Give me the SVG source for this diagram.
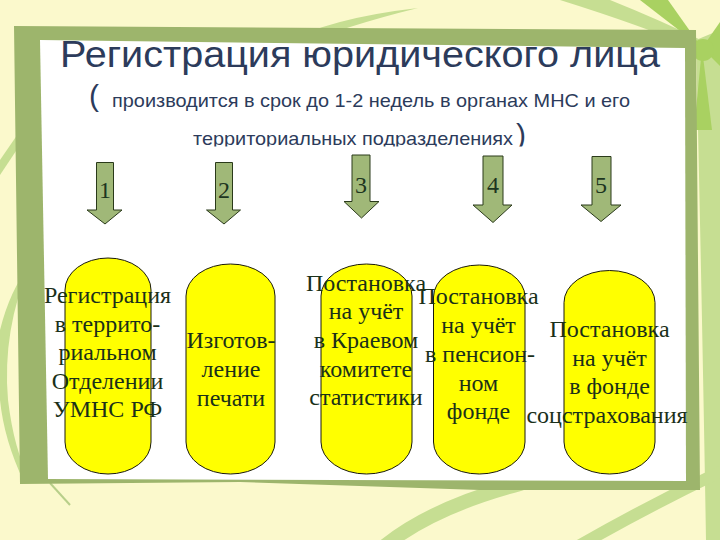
<svg xmlns="http://www.w3.org/2000/svg" width="720" height="540" viewBox="0 0 720 540">
  <defs>
    <style>
      .leaf { fill: #c6de92; }
      .leafs { fill: none; stroke: #c6de92; stroke-linecap: round; }
      .bright { fill: #a9d161; }
      .title { font-family: "Liberation Sans", "DejaVu Sans", Arial, sans-serif; fill: #2c3b5b; }
      .arrow { fill: #a0b878; stroke: #2a3a1a; stroke-width: 1; }
      .num { font-family: "Liberation Serif", "Times New Roman", serif; font-size: 24px; fill: #1d3520; text-anchor: middle; }
      .pill { fill: #ffff00; stroke: #1a1a0a; stroke-width: 1; }
      .lbl { font-family: "Liberation Serif", "Times New Roman", serif; font-size: 24px; fill: #1a3019; text-anchor: middle; }
    </style>
    <clipPath id="clipLine3">
      <rect x="0" y="100" width="720" height="46.5"/>
    </clipPath>
  </defs>

  <g id="background">
    <rect x="0" y="0" width="720" height="540" fill="#fbf9cc"/>
    <path class="leaf" d="M 282 44 Q 330 18 418 8 Q 345 26 292 48 Z"/>
    <path class="leaf" d="M 560 0 L 610 0 Q 660 20 705 42 L 700 50 Q 640 25 560 0 Z"/>
    <path class="leaf" d="M 696 40 L 720 30 L 720 540 L 706 540 Q 702 300 696 40 Z"/>
    <path class="bright" d="M 702 48 L 640 0 L 668 0 Z"/>
    <path class="bright" d="M 702 48 L 720 22 L 720 66 Z"/>
    <path class="bright" d="M 702 48 L 694 130 L 712 130 Z"/>
    <circle class="bright" cx="703" cy="50" r="11"/>
    <path class="leafs" stroke-width="14" d="M 382 548 Q 430 508 520 484"/>
    <path class="leafs" stroke-width="12" d="M 575 548 Q 650 505 724 470"/>
    <path class="leaf" d="M 0 175 L 0 160 L 22 128 L 26 136 Z"/>
    <path class="leaf" d="M 30 265 Q 2 330 8 400 Q 14 450 30 480 L 24 482 Q 4 440 0 400 L 0 330 Q 10 290 30 265 Z"/>
    <path fill="none" stroke="#b8cf8a" stroke-width="2" d="M 50 483 L 70 505"/>
  </g>

  <g id="frame">
    <polygon fill="#9db56c" points="14,26 696,30 700,490 480,490 240,482 20,484"/>
    <polygon fill="#ffffff" points="40,40 685,48 686,481 48,479"/>
  </g>

  <g id="title">
    <text class="title" x="60" y="67" font-size="37" textLength="600" lengthAdjust="spacingAndGlyphs">Регистрация юридического лица</text>
    <text class="title" x="89" y="106" font-size="30">(</text>
    <text class="title" x="112" y="107" font-size="19" textLength="518" lengthAdjust="spacingAndGlyphs">производится в срок до 1-2 недель в органах МНС и его</text>
    <g clip-path="url(#clipLine3)">
      <text class="title" x="193" y="145" font-size="19" textLength="320" lengthAdjust="spacingAndGlyphs">территориальных подразделениях</text>
      <text class="title" x="516" y="145" font-size="30">)</text>
    </g>
  </g>

  <g id="connectors">
    <path class="arrow" d="M 96.5 162.5 L 113.5 162.5 L 113.5 210 L 122 210 L 105 224 L 87 210 L 96.5 210 Z"/>
    <path class="arrow" d="M 215.5 162.5 L 232.5 162.5 L 232.5 210 L 240.5 210 L 224 224 L 206.5 210 L 215.5 210 Z"/>
    <path class="arrow" d="M 352 155 L 370 155 L 370 201.5 L 379 201.5 L 361.5 218 L 344 201.5 L 352 201.5 Z"/>
    <path class="arrow" d="M 483 156 L 503 156 L 503 205 L 512 205 L 493 222.5 L 473 205 L 483 205 Z"/>
    <path class="arrow" d="M 592 156.5 L 611 156.5 L 611 205 L 621 205 L 601 221.5 L 581 205 L 592 205 Z"/>
    <text class="num" x="105" y="198">1</text>
    <text class="num" x="224" y="198">2</text>
    <text class="num" x="361" y="193">3</text>
    <text class="num" x="493" y="193">4</text>
    <text class="num" x="601" y="193">5</text>
  </g>

  <g id="node1">
    <rect class="pill" x="65" y="258" width="86" height="216" rx="43" ry="32"/>
    <text class="lbl" x="107.5" y="303">Регистрация</text>
    <text class="lbl" x="107.5" y="332">в террито-</text>
    <text class="lbl" x="107.5" y="360">риальном</text>
    <text class="lbl" x="107.5" y="389">Отделении</text>
    <text class="lbl" x="107.5" y="417">УМНС РФ</text>
  </g>

  <g id="node2">
    <rect class="pill" x="186" y="264" width="89" height="210" rx="44.5" ry="32"/>
    <text class="lbl" x="231" y="348">Изготов-</text>
    <text class="lbl" x="231" y="377">ление</text>
    <text class="lbl" x="231" y="406">печати</text>
  </g>

  <g id="node3">
    <rect class="pill" x="321" y="264" width="91" height="210" rx="45.5" ry="32"/>
    <text class="lbl" x="366" y="290.5">Постановка</text>
    <text class="lbl" x="366" y="319">на учёт</text>
    <text class="lbl" x="366" y="348">в Краевом</text>
    <text class="lbl" x="366" y="376.5">комитете</text>
    <text class="lbl" x="366" y="405">статистики</text>
  </g>

  <g id="node4">
    <rect class="pill" x="433.5" y="265" width="91.5" height="209" rx="45.7" ry="32"/>
    <text class="lbl" x="478.5" y="304">Постановка</text>
    <text class="lbl" x="478.5" y="333">на учёт</text>
    <text class="lbl" x="480" y="362">в пенсион-</text>
    <text class="lbl" x="478.5" y="390.5">ном</text>
    <text class="lbl" x="478.5" y="419">фонде</text>
  </g>

  <g id="node5">
    <rect class="pill" x="564" y="270.5" width="91" height="203.5" rx="45.5" ry="32"/>
    <text class="lbl" x="609.5" y="337">Постановка</text>
    <text class="lbl" x="609.5" y="365.5">на учёт</text>
    <text class="lbl" x="609.5" y="394">в фонде</text>
    <text class="lbl" x="607" y="423">соцстрахования</text>
  </g>
</svg>
